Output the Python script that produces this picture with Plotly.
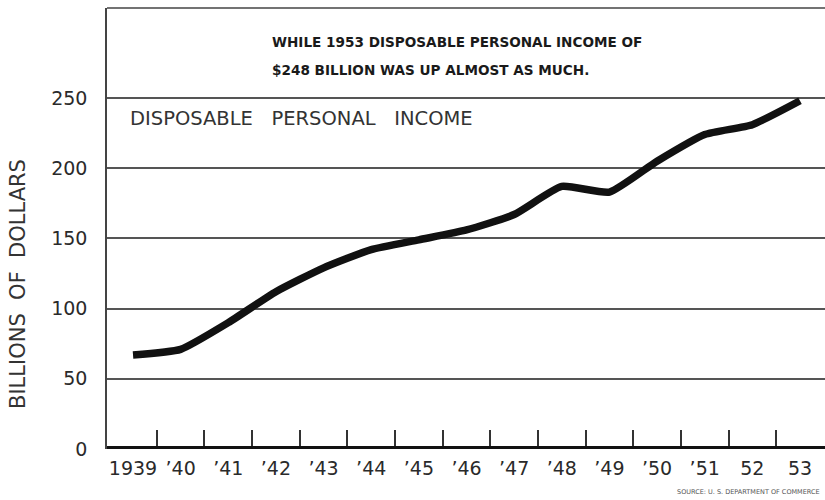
import plotly.graph_objects as go

# Disposable personal income, billions of dollars
years = [1939, 1940, 1941, 1942, 1943, 1944, 1945, 1946, 1947, 1948, 1949, 1950, 1951, 1952, 1953]
income = [67, 71, 90, 112, 129, 142, 149, 156, 167, 187, 183, 205, 224, 231, 248]
year_labels = ["1939", "\u201940", "\u201941", "\u201942", "\u201943", "\u201944", "\u201945",
               "\u201946", "\u201947", "\u201948", "\u201949", "\u201950", "\u201951", "52", "53"]
y_ticks = [0, 50, 100, 150, 200, 250]

GRID = "#555555"
FONT = "DejaVu Sans"
SP2 = "\u00a0\u00a0"
SP3 = "\u00a0\u00a0\u00a0"

# year boundaries, marked by short upright ticks on the baseline
boundaries = [(a + b) / 2 for a, b in zip(years[:-1], years[1:])]

fig = go.Figure()
fig.add_trace(go.Scatter(
    x=years, y=income, mode="lines",
    line=dict(color="#111111", width=7.5, shape="spline", smoothing=0.5),
    hoverinfo="x+y", showlegend=False,
))

fig.update_layout(
    width=825, height=500,
    margin=dict(l=107, r=0, t=8, b=51),
    paper_bgcolor="white", plot_bgcolor="white",
    font=dict(family=FONT, color="#2a2a2a"),
    xaxis=dict(
        range=[1938.454, 1953.525],
        tickvals=years, ticktext=year_labels,
        ticks="", showgrid=False, zeroline=False, showline=False,
        tickfont=dict(size=19, color="#2a2a2a"),
        ticklabelstandoff=6,
        minor=dict(tickvals=boundaries, ticks="inside", ticklen=19,
                   tickwidth=2, tickcolor="#333333", showgrid=False),
    ),
    yaxis=dict(
        range=[0, 314.1],
        tickvals=y_ticks, ticktext=[str(v) for v in y_ticks],
        ticks="", showgrid=True, gridcolor=GRID, gridwidth=1.5,
        zeroline=False, showline=True, linecolor="#444444", linewidth=1.5,
        tickfont=dict(size=19, color="#2a2a2a"),
        ticklabelstandoff=14,
    ),
    shapes=[
        # frame top
        dict(type="line", xref="paper", yref="paper", x0=0, x1=1, y0=1, y1=1,
             line=dict(color="#444444", width=1.5)),
        # heavy baseline at zero
        dict(type="line", xref="paper", yref="y", x0=0, x1=1, y0=0, y1=0,
             line=dict(color="#111111", width=6), layer="above"),
    ],
    annotations=[
        dict(x=1941.876, y=289.9, xref="x", yref="y", xanchor="left", yanchor="middle",
             text="<b>WHILE 1953 DISPOSABLE PERSONAL INCOME OF</b>", showarrow=False,
             font=dict(family=FONT, size=13.6, color="#1a1a1a")),
        dict(x=1941.876, y=270.0, xref="x", yref="y", xanchor="left", yanchor="middle",
             text="<b>$248 BILLION WAS UP ALMOST AS MUCH.</b>", showarrow=False,
             font=dict(family=FONT, size=13.6, color="#1a1a1a")),
        dict(x=1938.9, y=235.7, xref="x", yref="y", xanchor="left", yanchor="middle",
             text="DISPOSABLE" + SP3 + "PERSONAL" + SP3 + "INCOME", showarrow=False,
             font=dict(family=FONT, size=19.5, color="#333333")),
        dict(x=-0.124, y=117.5, xref="paper", yref="y", xanchor="center", yanchor="middle",
             text="BILLIONS" + SP2 + "OF" + SP2 + "DOLLARS", textangle=-90, showarrow=False,
             font=dict(family=FONT, size=21, color="#333333")),
        dict(x=0.996, y=-0.0975, xref="paper", yref="paper", xanchor="right", yanchor="middle",
             text="SOURCE: U. S. DEPARTMENT OF COMMERCE", showarrow=False,
             font=dict(family=FONT, size=6.5, color="#555555")),
    ],
)

fig.write_html("out.html")
